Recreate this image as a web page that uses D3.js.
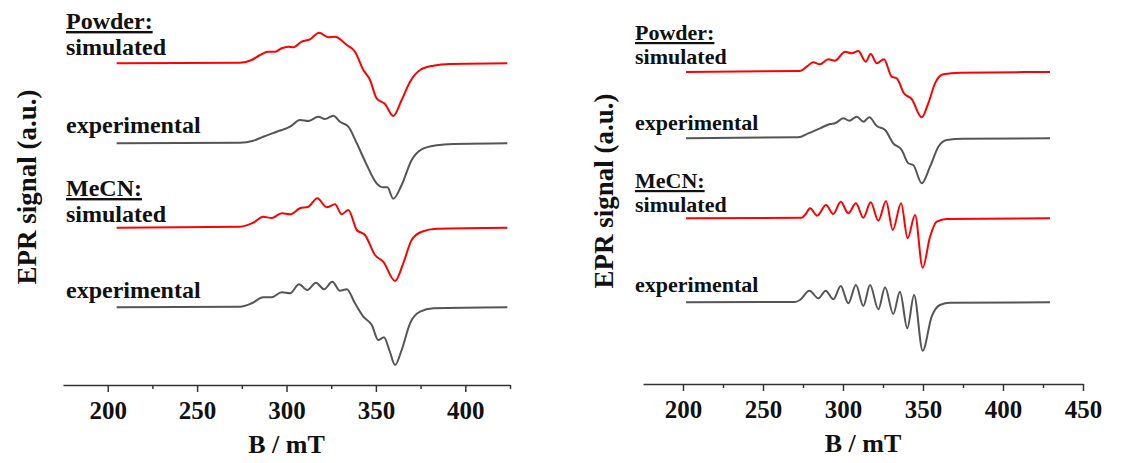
<!DOCTYPE html>
<html>
<head>
<meta charset="utf-8">
<script src="https://cdn.jsdelivr.net/npm/d3@7"></script>
<style>
  body { margin: 0; background: #fff; }
  text { font-family: "Liberation Serif", "Times New Roman", serif; font-weight: bold; fill: #111; }
  .axis path, .axis line { stroke: #333; stroke-width: 1.5; }
  .trace { fill: none; stroke-width: 2; stroke-linejoin: round; }
</style>
</head>
<body>
<svg width="1121" height="463"></svg>
<script>
// field (mT), signal (a.u.)
const leftPowderSim = [[205,0],[274,0.06],[280.5,0.33],[285.2,0.83],[289.8,1.16],[293.6,1.16],[297.3,1.5],[301,1.66],[303.8,1.6],[308.5,2.16],[313.1,2.4],[318.2,3.06],[323.4,2.6],[327.1,2.66],[333.7,1.83],[338.3,1.16],[343,-0.67],[346.7,-1.67],[350.4,-3.5],[355.1,-4.07],[359.7,-5.27],[364.4,-3.67],[369.1,-1.84],[374.7,-0.67],[382.1,-0.24],[391.4,-0.07],[423.5,0]];
const leftPowderExp = [[205,0],[274,0.06],[281.4,0.26],[287,0.66],[294.5,1.16],[302,1.66],[307.5,2.33],[312.2,2.23],[317.8,2.66],[321.5,2.43],[326.2,2.76],[329.9,2.16],[334.6,1.66],[339.3,0],[344.9,-2.17],[350.4,-4.0],[354.1,-4.4],[356.4,-4.4],[359.7,-5.54],[364.4,-4.17],[370,-1.67],[375.6,-0.6],[384,-0.2],[393.3,-0.07],[423.5,0]];
const leftMecnSim = [[205,0],[274,0.1],[281.4,0.5],[287,1.1],[291.7,0.97],[297.3,1.44],[302,1.34],[307.5,1.94],[312.2,2.1],[317.2,2.94],[322.5,2.04],[327.1,2.34],[330.9,1.34],[334.6,1.77],[339.3,-0.23],[343.9,-0.73],[349.5,-2.73],[354.1,-3.4],[360.7,-5.33],[365.3,-3.56],[370,-1.23],[375.6,-0.4],[384,-0.1],[423.5,0]];
const leftMecnExp = [[205,0],[274,0.06],[280.5,0.4],[287,1.0],[291.7,1.0],[297.3,1.5],[302,1.4],[307,2.3],[311.6,1.73],[316.5,2.46],[321,1.8],[325.6,2.56],[329.9,1.66],[333.7,1.8],[338.3,0.4],[343,-0.94],[347.7,-1.77],[351.3,-3.27],[354.5,-3.0],[357.5,-4.27],[360.7,-5.77],[364.4,-4.27],[369.1,-1.6],[374.7,-0.44],[382.1,-0.1],[423.5,0]];

const rightPowderSim = [[201.9,0],[273.1,0.1],[277.3,0.53],[281.4,0.97],[285.6,0.77],[290.8,1.27],[295,1.13],[301.3,2.03],[305.4,1.87],[309.6,2.1],[314.2,1.03],[317.3,1.8],[321.1,0.87],[325.6,1.27],[330.4,-0.47],[333.6,-0.63],[338.1,-2.13],[342.9,-2.7],[349.2,-4.53],[353.3,-3.13],[357.5,-1.13],[362.7,-0.23],[373.1,-0.07],[429.4,0]];
const rightPowderExp = [[201.9,0],[272.1,0.1],[278.3,0.5],[285.6,1.0],[291.9,1.43],[295,1.5],[300.2,2.0],[303.9,1.76],[308.6,2.16],[312.7,1.66],[316.4,2.1],[321.1,1.23],[326.3,0.83],[331.4,-0.5],[336.7,-1.17],[340.8,-2.5],[343.9,-2.67],[349.2,-4.5],[354.4,-2.84],[359.6,-0.84],[364.8,-0.17],[375.2,-0.04],[429.4,0]];
const rightMecnSim = [[201.9,0],[274.2,0.06],[276.7,0.43],[279.4,1.0],[283.9,0.26],[289.4,1.33],[293.9,0.43],[298.6,1.66],[303.3,0.5],[308.1,1.5],[312.7,0.06],[317.3,1.6],[322.1,-0.24],[326.9,1.73],[331.1,-1.17],[336.3,1.5],[340.4,-2.0],[345,0.33],[349.8,-4.94],[354.4,-1.84],[358.6,-0.34],[364.8,-0.07],[429.4,0]];
const rightMecnExp = [[201.9,0],[270,0.03],[273.1,0.23],[279,1.16],[284.6,0.4],[289.2,1.16],[294,0.3],[298.6,1.63],[303.3,-0.1],[308.1,1.73],[312.7,-0.37],[316.9,1.73],[322.1,-0.7],[326.3,1.5],[331.4,-1.17],[335.6,1.06],[340.2,-2.6],[344.4,0.73],[349.8,-4.84],[355.4,-1.44],[360.6,-0.27],[366.9,-0.04],[429.4,0]];

const leftTicks = [200, 250, 300, 350, 400];
const leftMinor = [225, 275, 325, 375, 425];
const rightTicks = [200, 250, 300, 350, 400, 450];
const rightMinor = [225, 275, 325, 375, 425];

const traceLabels = ['simulated', 'experimental', 'simulated', 'experimental'];
const groupLabels = ['Powder:', 'MeCN:'];

const svg = d3.select('svg');

const panels = [
  { x0: 63, x1: 510, axisY: 385, domain: [175, 425], ticks: leftTicks, minor: leftMinor,
    traces: [leftPowderSim, leftPowderExp, leftMecnSim, leftMecnExp],
    offsets: [32.17, 24.17, 15.73, 7.77],
    labelX: 66, labelSize: 24, groupY: [29, 196], labelY: [55, 133, 222, 298],
    yLabelX: 36, yLabelY: 187 },
  { x0: 643, x1: 1083, axisY: 384, domain: [175, 450], ticks: rightTicks, minor: rightMinor,
    traces: [rightPowderSim, rightPowderExp, rightMecnSim, rightMecnExp],
    offsets: [31.3, 24.67, 16.67, 8.27],
    labelX: 635, labelSize: 22, groupY: [40, 188], labelY: [64, 130, 212, 292],
    yLabelX: 613, yLabelY: 191 }
];

const colors = ['#ff0000', '#555555', '#ff0000', '#555555'];

panels.forEach(function(p) {
  const x = d3.scaleLinear().domain(p.domain).range([p.x0, p.x1]);
  const y = d3.scaleLinear().domain([0, 38.5]).range([385, 0]);

  const line = d3.line()
    .x(d => x(d[0]))
    .curve(d3.curveMonotoneX);

  p.traces.forEach(function(t, i) {
    line.y(d => y(d[1] + p.offsets[i]));
    svg.append('path')
      .attr('class', 'trace')
      .attr('stroke', colors[i])
      .attr('d', line(t));
  });

  // major ticks with labels
  const ax = svg.append('g')
    .attr('class', 'axis')
    .attr('transform', `translate(0, ${p.axisY})`)
    .call(d3.axisBottom(x).tickValues(p.ticks).tickSize(7).tickSizeOuter(0).tickPadding(9))
    .attr('font-family', null)
    .attr('font-size', null);
  ax.selectAll('text')
    .style('font-size', '25px')
    .attr('fill', '#111');

  // minor ticks
  svg.append('g')
    .attr('class', 'axis')
    .attr('transform', `translate(0, ${p.axisY})`)
    .call(d3.axisBottom(x).tickValues(p.minor).tickSize(4).tickSizeOuter(0).tickFormat(''))
    .select('.domain').remove();

  svg.append('text')
    .attr('x', (p.x0 + p.x1) / 2)
    .attr('y', p.axisY + 68)
    .attr('text-anchor', 'middle')
    .style('font-size', '26px')
    .text('B / mT');

  svg.append('text')
    .attr('transform', `translate(${p.yLabelX}, ${p.yLabelY}) rotate(-90)`)
    .attr('text-anchor', 'middle')
    .style('font-size', '27px')
    .text('EPR signal (a.u.)');

  groupLabels.forEach(function(g, i) {
    svg.append('text')
      .attr('x', p.labelX)
      .attr('y', p.groupY[i])
      .style('font-size', p.labelSize + 'px')
      .style('text-decoration', 'underline')
      .text(g);
  });

  traceLabels.forEach(function(l, i) {
    svg.append('text')
      .attr('x', p.labelX)
      .attr('y', p.labelY[i])
      .style('font-size', p.labelSize + 'px')
      .text(l);
  });
});
</script>
</body>
</html>
